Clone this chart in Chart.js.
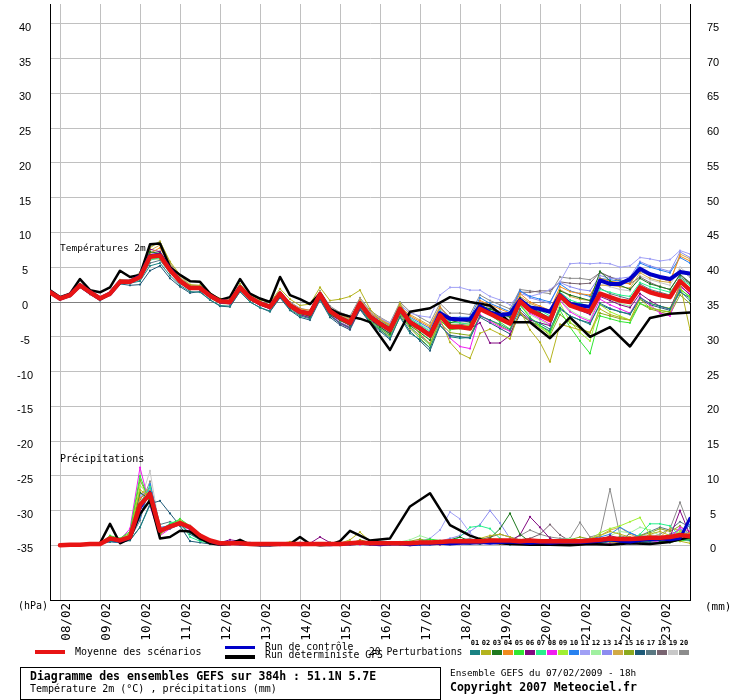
<!DOCTYPE html>
<html><head><meta charset="utf-8">
<script src="https://cdn.jsdelivr.net/npm/chart.js@4.4.1/dist/chart.umd.min.js"></script>
<style>
html,body{margin:0;padding:0;background:#fff;}
#wrap{position:relative;width:740px;height:700px;overflow:hidden;background:#fff;}
#c{position:absolute;left:0;top:0;}
.t{position:absolute;font-family:"DejaVu Sans Mono",monospace;white-space:pre;color:#000;line-height:1;}
.sq{position:absolute;width:10px;height:5.5px;top:649.5px;}
.num{position:absolute;width:11px;text-align:center;top:639.5px;font-family:"DejaVu Sans Mono",monospace;font-weight:bold;font-size:7px;line-height:1;}
</style></head><body>
<div id="wrap">
<canvas id="c" width="740" height="700"></canvas>
<div class="t" style="left:60px;top:243px;font-size:9.5px;">Températures 2m</div>
<div class="t" style="left:60px;top:454px;font-size:10px;">Précipitations</div>
<div class="t" style="left:18px;top:601px;font-size:10px;">(hPa)</div>
<div class="t" style="left:705px;top:600.5px;font-size:11px;">(mm)</div>
<div style="position:absolute;left:35px;top:650px;width:30px;height:3.5px;background:#e81414;"></div>
<div class="t" style="left:75px;top:646.7px;font-size:10px;">Moyenne des scénarios</div>
<div style="position:absolute;left:225px;top:645.5px;width:30px;height:3.5px;background:#0000c8;"></div>
<div style="position:absolute;left:225px;top:655px;width:30px;height:3.5px;background:#000;"></div>
<div class="t" style="left:265px;top:641.7px;font-size:9.8px;">Run de contrôle</div>
<div class="t" style="left:265px;top:650.3px;font-size:9.8px;">Run déterministe GFS</div>
<div class="t" style="left:369px;top:647px;font-size:9.7px;">20 Perturbations</div>
<div id="leg"></div>
<div style="position:absolute;left:20px;top:667px;width:419px;height:31px;border:1px solid #000;"></div>
<div class="t" style="left:30px;top:670.5px;font-size:11.5px;font-weight:bold;">Diagramme des ensembles GEFS sur 384h : 51.1N 5.7E</div>
<div class="t" style="left:30px;top:683.5px;font-size:10px;">Température 2m (°C) , précipitations (mm)</div>
<div class="t" style="left:450px;top:667.5px;font-size:9.4px;">Ensemble GEFS du 07/02/2009 - 18h</div>
<div class="t" style="left:450px;top:681.8px;font-size:11.5px;font-weight:bold;">Copyright 2007 Meteociel.fr</div>
</div>
<script>
// ---------- categories / ticks ----------
const hours = [0,6,12,18,24,30,36,42,48,54,60,66,72,78,84,90,96,102,108,114,120,126,132,138,144,150,156,162,168,174,180,186,192,198,204,210,216,222,228,234,240,246,252,258,264,270,276,282,288,294,300,306,312,318,324,330,336,342,348,354,360,366,372,378,384];
const detHours = [0,6,12,18,24,30,36,42,48,54,60,66,72,78,84,90,96,102,108,114,120,126,132,138,144,150,156,162,168,174,180,186,192,204,216,228,240,252,264,276,288,300,312,324,336,348,360,372,384];
const dayTickHours = [6,30,54,78,102,126,150,174,198,222,246,270,294,318,342,366];
const dayLabels = ['08/02','09/02','10/02','11/02','12/02','13/02','14/02','15/02','16/02','17/02','18/02','19/02','20/02','21/02','22/02','23/02'];
const tempTicks = [-35,-30,-25,-20,-15,-10,-5,0,5,10,15,20,25,30,35,40];
const precipTicks = [0,5,10,15,20,25,30,35,40,45,50,55,60,65,70,75];
const pertNames = ['01','02','03','04','05','06','07','08','09','10','11','12','13','14','15','16','17','18','19','20'];
const pertColors = ['#1a8282','#b4b41e','#1e781e','#f08c1e','#32e632','#820a82','#28f08c','#f01ef0','#a0f032','#2882f0','#a0a0f5','#a0f0a0','#8c8cf0','#d2aa46','#8caa1e','#1e5a78','#5a7882','#786470','#c8c8c8','#8c8c8c'];

// ---------- temperature 2m (°C), every 6 h ----------
const meanTemp = [1.4,0.5,1.0,2.4,1.4,0.5,1.2,2.9,2.9, 3.6,6.5,6.7,4.6,3.0, 2.0,2.0,0.9,0.1,0.0,2.1,0.6,-0.2, -0.7,1.2,-0.5,-1.4,-1.7,1.1,-1.3,-2.3,-3.0,-0.2,-2.1,-3.1, -4.0,-1.0,-2.9,-3.8,-4.8,-1.9,-3.6,-3.6,-3.8,-1.0,-1.7,-2.4,-3.1, 0.1,-1.2,-1.9,-2.6,0.9,-0.5,-1.0,-1.4,1.2,0.7,0.2,0.0,2.1,1.4,1.0,0.7,3.0,1.7];
const ctrlTemp = [1.4,0.5,1.0,2.4,1.4,0.5,1.2,2.9,2.9, 3.7,6.6,6.8,4.7,3.0, 2.0,2.0,0.9,0.1,0.0,2.1,0.6,-0.2, -0.7,1.2,-0.5,-1.4,-1.7,1.1,-1.3,-2.3,-3.0,-0.2,-2.1,-3.1, -4.0,-1.0,-2.9,-3.8,-4.8,-1.6,-2.4,-2.5,-2.5,-0.6,-1.5,-1.9,-1.7, 0.3,-0.8,-1.0,-1.4,1.0,-0.3,-0.5,-0.7,3.1,2.6,2.6,3.3,4.8,4.0,3.6,3.3,4.3,4.1];
const detTemp = [1.7,0.7,1.2,3.3,1.7,1.4,2.1,4.5,3.6,3.9,8.3,8.4,5.0,3.9,3.0,2.9,1.2,0.3,0.7,3.3,1.2,0.5,0.0,3.6,1.0,0.4,-0.3,1.2,-1.0,-1.7,-2.1,-2.4,-2.9, -6.9,-1.4,-0.9,0.7,0.0,-0.5,-2.9,-2.9,-5.2,-2.2,-5.0,-3.6,-6.4,-2.3,-1.7,-1.5];

const t01 = [1.2,0.3,0.8,2.1,1.1,0.2,1.0,2.6,2.7, 3.0,5.2,5.6,3.8,2.4, 1.5,1.4,0.3,-0.5,-0.6,1.5,0.0,-0.8, -1.3,0.7,-1.1,-2.0,-2.4,0.4,-2.0,-3.0,-3.7,-0.9,-2.9,-4.0, -5.2,-2.2,-4.5,-5.4,-6.6,-3.3,-5.0,-5.2,-5.1,-2.0,-2.6,-3.2,-4.0, -1.0,-2.4,-3.1,-3.9,-0.8,-2.0,-2.6,-3.2,-0.2,-0.9,-1.4,-1.7,0.6,-0.2,-0.6,-1.0,1.6,0.2];
const t02 = [1.6,0.7,1.2,2.6,1.6,0.7,1.4,3.2,3.1, 4.2,7.8,8.7,5.8,3.9, 2.5,2.4,1.3,0.5,0.4,2.6,1.0,0.3, -0.1,1.9,0.4,-0.5,-0.3,2.1,0.2,0.4,0.8,1.7,-1.0,-2.6, -3.5,-0.2,-3.0,-4.6,-6.0,-2.4,-5.8,-7.4,-8.1,-4.5,-3.9,-4.6,-5.3, -1.2,-4.0,-5.8,-8.6,-3.2,-3.6,-4.0,-4.4,-1.0,-1.8,-2.2,-2.6,0.4,-0.8,-1.2,-1.5,2.6,-4.0];
const t03 = [1.4,0.5,1.1,2.5,1.3,0.6,1.3,3.1,3.0, 3.9,7.2,7.0,4.9,3.2, 2.2,2.1,1.1,0.3,0.1,2.3,0.8,0.0, -0.9,1.0,-0.8,-1.6,-2.1,0.9,-1.8,-2.6,-3.4,-0.4,-2.4,-3.6, -4.6,-1.2,-3.4,-4.4,-5.5,-2.0,-3.0,-2.6,-2.9,-0.5,-1.0,-1.6,-2.2, 0.6,-0.8,-1.5,-2.4,1.6,1.0,0.6,0.2,4.4,3.0,2.4,1.8,3.4,2.6,2.2,1.8,3.9,2.7];
const t04 = [1.5,0.6,1.0,2.5,1.5,0.6,1.2,3.0,3.0, 3.8,7.0,7.8,5.2,3.4, 2.3,2.2,1.0,0.2,0.1,2.2,0.7,0.0, -0.5,1.4,-0.2,-1.0,-1.2,1.4,-0.9,-1.8,-2.4,0.2,-1.6,-2.5, -3.3,-0.6,-2.0,-2.8,-3.6,-0.8,-2.2,-2.4,-2.6,0.2,-0.4,-1.0,-1.6, 1.2,0.0,-0.6,-1.2,2.2,1.5,1.2,1.0,3.4,3.0,2.8,2.6,4.8,4.0,3.4,3.0,6.6,5.9];
const t05 = [1.3,0.4,0.9,2.3,1.4,0.4,1.1,2.8,2.9, 3.4,6.8,6.4,4.4,2.9, 1.9,1.9,0.8,0.0,-0.1,1.9,0.4,-0.3, -0.9,1.0,-0.7,-1.7,-2.0,0.7,-1.6,-2.7,-3.3,-0.6,-2.7,-3.8, -4.8,-1.6,-3.6,-4.9,-6.2,-2.6,-4.0,-3.8,-3.6,-0.6,-1.8,-2.9,-3.9, -0.4,-2.2,-3.4,-4.4,-1.2,-3.6,-5.6,-7.4,-2.0,-2.4,-2.8,-3.0,-0.2,-0.8,-1.2,-1.4,1.8,0.8];
const t06 = [1.4,0.6,1.0,2.4,1.3,0.5,1.2,2.9,2.8, 4.1,7.6,7.2,4.8,3.2, 2.0,1.9,0.7,-0.1,-0.2,1.9,0.4,-0.4, -0.9,0.9,-0.8,-1.8,-2.3,0.6,-1.9,-3.1,-3.8,-1.0,-2.6,-3.6, -4.5,-1.4,-3.2,-4.0,-5.0,-2.0,-3.3,-3.5,-3.8,-3.0,-5.9,-5.9,-4.8, -1.4,-2.6,-3.0,-3.4,0.6,-0.6,-1.2,-1.8,0.8,0.2,-0.4,-0.8,1.2,0.2,-0.6,-1.0,2.4,1.0];
const t07 = [1.3,0.5,1.1,2.3,1.4,0.5,1.3,2.8,2.9, 3.3,6.0,6.4,4.5,3.1, 2.1,1.9,0.9,0.0,-0.2,2.0,0.5,-0.3, -0.8,1.2,-0.4,-1.3,-1.7,1.1,-1.2,-2.2,-2.8,0.0,-1.8,-2.8, -3.6,-0.7,-2.4,-3.3,-4.2,-1.3,-2.9,-3.0,-3.2,-0.4,-1.2,-2.0,-2.8, 0.4,-0.6,-1.2,-2.0,1.4,0.3,-0.2,-0.6,1.8,1.4,1.0,0.8,2.8,2.2,1.8,1.4,3.4,2.4];
const t08 = [1.5,0.5,0.9,2.4,1.4,0.4,1.1,2.9,2.9, 3.7,6.8,7.0,4.7,3.0, 1.9,1.8,0.7,-0.1,-0.3,1.9,0.4,-0.4, -1.0,0.9,-0.8,-1.8,-2.2,0.6,-1.8,-2.9,-3.6,-0.7,-2.6,-3.8, -4.8,-1.6,-3.6,-4.8,-6.0,-2.8,-5.2,-6.4,-6.7,-1.8,-2.8,-3.6,-4.2, -0.2,-1.6,-2.4,-3.2,0.2,-1.4,-2.2,-2.8,0.4,-0.4,-1.0,-1.6,0.8,-0.4,-1.6,-2.0,2.2,1.2];
const t09 = [1.4,0.6,1.0,2.5,1.4,0.6,1.2,3.0,2.9, 3.6,6.4,6.9,4.8,3.2, 2.1,2.0,0.9,0.1,0.0,2.1,0.6,-0.2, -0.6,1.3,-0.3,-1.2,-1.5,1.3,-1.0,-2.0,-2.6,0.1,-2.0,-3.2, -4.4,-1.0,-3.0,-4.0,-5.0,-1.6,-3.2,-3.4,-3.4,-0.6,-1.4,-2.2,-3.0, -0.4,-2.2,-3.6,-4.6,-0.2,-2.8,-4.4,-5.6,-0.4,-1.4,-2.0,-2.6,0.6,-0.2,-0.6,-0.9,2.0,0.6];
const t10 = [1.4,0.5,1.0,2.4,1.5,0.5,1.2,2.8,2.9, 3.5,6.6,6.5,4.5,3.0, 2.0,2.0,0.9,0.1,0.0,2.1,0.6,-0.1, -0.6,1.3,-0.4,-1.3,-1.6,1.2,-1.1,-2.0,-2.6,0.2,-1.6,-2.6, -3.4,-0.4,-2.2,-3.0,-3.8,-0.8,-2.2,-2.2,-2.2,0.6,-0.2,-0.8,-1.4, 1.6,0.8,0.4,0.0,2.6,1.6,1.2,0.8,3.4,3.2,3.0,3.0,5.6,5.0,4.6,4.2,6.4,5.6];
const t11 = [1.5,0.6,1.1,2.3,1.4,0.6,1.3,2.9,3.0, 3.8,6.8,6.9,4.8,3.1, 2.1,2.0,0.9,0.2,0.0,2.0,0.6,-0.2, -0.6,1.2,-0.4,-1.2,-1.6,1.3,-1.0,-1.9,-2.4,0.2,-1.5,-2.4, -3.0,-0.4,-1.6,-2.0,-2.2,1.0,2.1,2.1,1.7,1.7,0.8,0.3,-0.4, 1.2,0.8,1.2,1.8,2.9,5.5,5.6,5.5,5.6,5.5,5.0,5.2,6.4,6.2,5.9,6.1,7.4,6.9];
const t12 = [1.3,0.4,1.0,2.3,1.3,0.4,1.1,2.8,2.8, 3.4,6.2,6.6,4.6,3.1, 2.2,2.0,0.8,0.0,-0.1,2.0,0.5,-0.3, -0.8,1.1,-0.6,-1.5,-1.9,0.9,-1.6,-2.6,-3.2,-0.4,-2.4,-3.4, -4.2,-1.2,-3.2,-4.3,-5.4,-2.3,-3.8,-3.9,-4.0,-1.2,-1.8,-2.6,-3.4, -0.6,-1.8,-2.6,-3.4,0.4,-1.2,-2.0,-2.6,1.0,0.4,-0.2,-0.6,2.0,1.4,1.0,0.6,2.8,1.8];
const t13 = [1.4,0.5,1.0,2.5,1.4,0.5,1.2,2.9,2.9, 3.7,6.6,7.1,4.8,3.1, 2.0,2.0,0.8,0.1,-0.1,2.1,0.6,-0.2, -0.7,1.2,-0.5,-1.4,-1.8,1.0,-1.4,-2.4,-3.0,-0.2,-2.0,-3.0, -3.8,-0.8,-2.6,-3.4,-4.4,-1.2,-2.6,-2.6,-2.8,0.0,-0.8,-1.4,-2.0, 1.6,0.6,0.2,-0.2,2.8,2.2,1.8,1.6,3.8,3.4,3.4,3.6,5.8,5.2,4.8,4.4,7.2,6.4];
const t14 = [1.5,0.6,1.1,2.6,1.5,0.6,1.3,3.1,3.0, 4.0,7.4,8.2,5.4,3.5, 2.3,2.2,1.0,0.2,0.1,2.3,0.8,0.0, -0.5,1.4,-0.2,-1.1,-1.4,1.4,-1.0,-1.9,-2.4,0.4,-1.4,-2.4, -3.2,-0.2,-1.8,-2.6,-3.4,-0.6,-2.6,-3.0,-3.2,-0.2,-0.8,-1.4,-2.2, 0.8,-0.2,-0.8,-1.4,1.8,0.8,0.4,0.2,2.4,2.4,2.2,2.0,4.2,3.4,3.0,2.8,6.9,6.2];
const t15 = [1.3,0.5,0.9,2.4,1.4,0.5,1.1,2.9,2.8, 3.5,6.2,6.2,4.3,2.8, 1.8,1.8,0.6,-0.2,-0.3,1.8,0.3,-0.4, -1.0,0.8,-0.9,-1.9,-2.2,0.5,-1.9,-3.0,-3.6,-0.8,-2.8,-4.0, -5.0,-1.8,-3.8,-5.2,-6.6,-3.0,-4.4,-4.6,-4.8,-2.0,-2.6,-3.4,-4.2, -1.6,-2.8,-3.6,-4.8,-1.8,-3.0,-3.8,-4.4,-1.6,-2.0,-2.4,-2.6,-0.2,-1.0,-1.4,-1.8,1.0,-0.2];
const t16 = [1.2,0.3,0.9,2.2,1.2,0.3,1.0,2.6,2.4, 2.5,4.5,5.2,3.4,2.2, 1.3,1.5,0.3,-0.6,-0.7,1.5,0.0,-0.8, -1.4,0.6,-1.2,-2.2,-2.6,0.3,-2.2,-3.3,-4.0,-1.1,-3.0,-4.2, -5.4,-2.0,-4.2,-5.6,-7.0,-3.4,-4.8,-5.0,-5.2,-2.2,-3.0,-3.8,-4.6, -1.8,-2.8,-3.4,-4.2,-1.0,-2.0,-2.6,-3.0,-0.4,-1.0,-1.4,-1.8,0.4,-0.4,-0.8,-1.2,1.4,0.6];
const t17 = [1.4,0.4,1.0,2.4,1.4,0.4,1.2,2.8,2.8, 3.2,5.6,6.0,4.2,2.8, 1.8,1.8,0.7,-0.1,-0.2,1.9,0.4,-0.4, -0.9,1.0,-0.6,-1.5,-1.9,0.9,-1.5,-2.5,-3.2,-0.4,-2.2,-3.2, -4.0,-1.0,-2.8,-3.8,-4.8,-1.8,-3.4,-3.4,-3.6,-0.8,-1.4,-2.2,-2.8, 0.2,-1.0,-1.6,-2.2,1.0,0.0,-0.4,-0.8,2.0,1.2,0.8,0.4,2.6,1.8,1.4,1.0,3.6,2.6];
const t18 = [1.5,0.6,1.0,2.4,1.4,0.6,1.2,2.9,3.0, 3.6,6.9,6.8,4.6,3.0, 2.0,1.9,0.9,0.1,-0.1,2.1,0.5,-0.2, -0.7,1.1,-0.5,-1.4,-1.8,1.0,-1.3,-2.3,-2.9,-0.2,-2.2,-3.0, -3.8,-0.9,-2.6,-3.6,-4.6,-1.6,-3.2,-3.2,-3.4,-0.6,-1.0,-1.4,-1.8, 1.4,1.4,1.6,1.6,2.9,2.7,2.6,2.7,4.3,3.6,3.0,2.6,3.6,2.8,2.2,1.8,4.0,2.8];
const t19 = [1.4,0.5,1.0,2.4,1.4,0.5,1.2,2.9,2.9, 3.9,7.2,7.4,5.0,3.2, 2.1,2.1,1.0,0.2,0.1,2.2,0.7,-0.1, -0.6,1.3,-0.3,-1.2,-1.5,1.3,-1.0,-2.0,-2.6,0.1,-1.8,-2.8, -3.6,-0.6,-2.4,-3.2,-4.0,-1.0,-2.6,-2.8,-3.0,-0.2,-0.8,-1.6,-2.4, 0.8,-0.2,-0.8,-1.4,1.8,1.0,0.6,0.2,2.6,2.2,1.8,1.6,3.8,3.2,2.8,2.4,5.0,3.8];
const t20 = [1.5,0.6,1.1,2.5,1.5,0.6,1.3,3.1,3.1, 4.3,8.0,8.7,5.6,3.6, 2.4,2.3,1.1,0.3,0.2,2.4,0.8,0.1, -0.4,1.5,0.0,-0.9,-1.2,1.6,-0.6,-1.5,-2.0,0.6,-1.2,-2.2, -3.0,0.0,-1.4,-2.2,-3.0,-0.2,-1.6,-1.6,-1.8,1.0,0.2,-0.4,-1.0, 1.8,1.6,1.4,1.2,3.6,3.4,3.4,3.2,4.2,3.6,3.2,2.8,4.4,3.8,3.4,3.0,4.6,3.6];

// ---------- precipitation (mm / 6 h), from hour 6 ----------
const meanPrecip = [0,0.1,0.1,0.2,0.2,1.0,0.7,1.2, 5.8,7.4,2.1,2.7,3.2,2.6,1.4,0.7, 0.3,0.3,0.3,0.2,0.2,0.2,0.2,0.2,0.2,0.2,0.2,0.2,0.2,0.3,0.4,0.3, 0.3,0.3,0.3,0.3,0.4,0.4,0.5,0.6,0.6,0.6,0.6,0.7,0.7,0.7,0.6,0.7, 0.6,0.6,0.6,0.6,0.6,0.7,0.8,1.0,0.9,0.9,1.0,1.1,1.1,1.2,1.5,1.3];
const ctrlPrecip = [0,0,0.1,0.2,0.2,0.9,0.6,1.1, 5.4,7.6,2.0,2.8,3.2,2.6,1.4,0.6, 0.2,0.3,0.2,0.2,0.1,0.1,0.2,0.2,0.1,0.2,0.2,0.1,0.2,0.2,0.3,0.2, 0.1,0.2,0.2,0.1,0.2,0.2,0.3,0.2,0.3,0.3,0.4,0.3,0.4,0.5,0.4,0.3, 0.4,0.3,0.4,0.5,0.4,0.5,0.6,0.8,0.6,0.5,0.7,0.8,0.9,0.8,1.0,3.9];
const detPrecip = [0.0,0.0,0.1,0.1,0.3,3.1,0.3,1.0, 4.5,6.5,1.0,1.2,2.1,2.0,1.0,0.3, 0.1,0.2,0.8,0.1,0.0,0.0,0.1,0.2, 1.2,0.2,0.0,0.1,0.6,2.1,1.4,0.7, 1.0,5.6,7.5,2.9,1.4,0.4,0.2,0.1,0.1,0.0,0.2,0.1,0.3,0.2,0.5,1.2];

const p01 = [0,0.1,0.1,0.2,0.2,0.6,0.4,0.8, 2.6,5.8,2.0,2.4,3.0,1.6,0.8,0.4, 0.2,0.3,0.4,0.2,0.1,0,0.1,0.2,0.1,0.2,0.3,0.1,0,0.2,0.4,0.2, 0.1,0.1,0.2,0,0.1,0.3,0.2,0.4,0.6,0.3,0.2,0.4,0.3,0.1,0.2,0.3, 0.4,0.2,0.1,0.3,0.5,0.4,0.2,0.6,0.8,0.4,0.3,0.5,0.4,0.6,0.9,0.7];
const p02 = [0,0,0.1,0.2,0.3,1.2,0.8,1.6, 8.0,7.0,1.5,2.8,3.6,2.8,1.6,0.6, 0.3,0.4,0.2,0.1,0.1,0.2,0.3,0.5,0.2,0.1,0.2,0.1,0.3,0.8,1.9,0.6, 0.3,0.2,0.1,0.4,0.6,0.3,0.2,0.1,0.3,0.5,1.0,1.4,1.6,1.2,0.6,0.3, 0.2,0.4,0.3,0.2,0.5,1.0,1.4,2.0,1.6,1.2,0.8,1.6,2.0,1.4,0.6,0.3];
const p03 = [0,0.1,0.1,0.1,0.2,0.8,0.6,1.4, 7.6,6.6,1.8,2.6,3.4,2.4,1.2,0.5, 0.2,0.2,0.3,0.1,0,0.1,0.2,0.1,0.3,0.2,0.1,0.2,0.1,0.3,0.4,0.2, 0.1,0.2,0.1,0.2,0.3,0.4,0.5,0.8,1.2,0.6,0.4,1.0,2.4,4.6,1.6,0.5, 0.5,0.3,0.2,0.4,0.3,0.2,0.4,0.6,0.5,0.3,0.8,1.2,0.6,0.4,0.8,1.0];
const p04 = [0,0,0.1,0.1,0.2,1.0,0.6,1.2, 6.8,7.8,2.2,2.8,3.2,2.6,1.4,0.6, 0.3,0.3,0.2,0.2,0.1,0.2,0.1,0.4,0.3,0.2,0.1,0.2,0.3,0.5,0.6,0.3, 0.2,0.3,0.2,0.1,0.2,0.3,0.4,0.2,0.3,0.5,0.4,0.3,0.2,0.4,0.6,0.3, 0.2,0.3,0.5,0.4,0.3,0.6,0.8,0.5,0.4,0.7,1.0,1.4,0.8,0.6,1.2,1.8];
const p05 = [0,0.1,0.1,0.2,0.3,1.4,1.0,2.0, 10.0,6.0,1.6,3.0,3.8,2.8,1.4,0.5, 0.2,0.3,0.2,0.1,0.2,0.1,0.3,0.2,0.1,0.2,0.3,0.4,0.2,0.1,0.3,0.2, 0.2,0.1,0.3,0.4,0.6,0.9,0.7,0.4,0.3,0.6,1.0,0.8,0.5,0.4,0.3,0.6, 0.8,0.5,0.3,0.6,0.4,0.3,0.5,0.9,1.2,0.8,0.5,0.6,1.0,0.8,0.6,0.9];
const p06 = [0,0,0.1,0.1,0.2,0.8,0.5,1.0, 5.0,7.8,2.4,2.6,3.0,2.4,1.6,0.8, 0.4,0.8,0.6,0.3,0.2,0.1,0.2,0.1,0.2,0.3,1.2,0.4,0.2,0.1,0.2,0.1, 0.1,0.2,0.1,0.2,0.3,0.2,0.1,0.3,0.4,0.3,0.2,0.4,0.3,0.6,1.5,4.1, 2.6,1.0,0.4,0.3,0.2,0.4,0.6,1.4,1.0,0.5,0.3,0.6,0.8,1.2,5.0,1.5];
const p07 = [0,0.1,0.1,0.2,0.2,0.7,0.5,1.1, 6.0,8.4,2.0,3.2,3.6,1.2,0.6,0.3, 0.2,0.2,0.3,0.2,0.1,0.2,0.1,0.2,0.3,0.2,0.1,0.2,0.2,0.3,0.4,0.2, 0.1,0.2,0.2,0.3,0.2,0.1,0.3,0.5,1.2,2.6,2.8,2.4,1.0,0.5,0.3,0.4, 0.3,0.2,0.4,0.5,0.3,0.4,0.6,0.5,0.4,0.8,1.6,3.1,3.1,2.8,1.4,0.8];
const p08 = [0,0,0.1,0.1,0.3,1.2,0.8,2.4, 11.2,5.6,1.4,2.4,3.0,2.2,1.0,0.4, 0.2,0.1,0.2,0.3,0.2,0.1,0,0.1,0.2,0.1,0.2,0.1,0.3,0.2,0.1,0.2, 0.2,0.1,0.2,0.3,0.2,0.1,0.2,0.3,0.2,0.4,0.3,0.5,0.6,0.4,0.3,0.2, 0.3,0.5,0.4,0.2,0.3,0.5,0.4,0.3,0.6,0.8,0.5,0.4,0.7,1.0,2.6,2.0];
const p09 = [0,0.1,0.2,0.2,0.3,1.0,0.7,1.5, 8.6,7.2,1.8,3.0,3.4,2.6,1.2,0.5, 0.3,0.2,0.1,0.2,0.3,0.2,0.1,0.2,0.1,0.2,0.1,0.3,0.4,0.2,0.3,0.1, 0.2,0.3,0.2,0.1,0.2,0.3,0.2,0.4,0.3,0.2,0.6,1.0,0.8,0.4,0.3,0.2, 0.4,0.3,0.6,0.5,0.4,0.8,1.8,2.4,2.8,3.4,4.0,1.5,0.8,1.2,2.0,1.4];
const p10 = [0,0,0.1,0.2,0.2,0.6,0.4,1.0, 4.0,8.8,2.6,2.8,3.2,2.8,1.6,0.7, 0.3,0.4,0.3,0.2,0.1,0.2,0.3,0.2,0.1,0.2,0.3,0.2,0.1,0.2,0.3,0.2, 0.1,0.2,0.3,0.2,0.1,0.2,0.3,0.2,0.4,0.3,0.5,0.4,0.6,0.5,0.3,0.4, 0.5,0.3,0.4,0.6,0.8,1.0,1.2,1.6,2.6,1.8,1.2,0.8,0.6,0.9,1.4,3.0];
const p11 = [0,0.1,0.1,0.1,0.2,0.9,0.6,1.3, 7.2,8.0,2.2,2.6,3.4,2.6,1.4,0.6, 0.2,0.3,0.2,0.4,0.2,0.1,0.2,0.3,0.2,0.1,0.2,0.3,0.2,0.4,0.3,0.2, 0.3,0.2,0.3,0.4,0.6,1.0,2.2,4.8,3.8,1.8,0.5,0.3,0.4,0.3,0.5,0.4, 0.3,0.5,0.6,0.4,0.3,0.5,0.7,0.6,0.5,0.8,1.0,0.7,0.6,1.0,1.8,1.2];
const p12 = [0,0.1,0.1,0.2,0.2,0.8,0.5,1.2, 6.4,7.4,2.4,3.0,3.6,2.6,1.2,0.5, 0.3,0.2,0.3,0.1,0.2,0.1,0.2,0.1,0.2,0.3,0.2,0.1,0.2,0.1,0.2,0.3, 0.2,0.3,0.5,0.8,1.4,0.9,0.5,0.3,0.2,0.3,0.4,0.6,0.8,0.5,0.4,0.3, 0.4,0.6,0.8,1.0,0.6,0.4,0.8,1.4,2.0,1.8,2.6,2.2,1.4,1.0,0.8,0.6];
const p13 = [0,0,0.1,0.2,0.3,1.1,0.7,1.4, 7.0,7.6,2.0,2.8,3.2,2.4,1.2,0.5, 0.2,0.3,0.2,0.1,0.2,0.3,0.2,0.1,0.2,0.1,0.2,0.3,0.2,0.1,0.2,0.2, 0.3,0.2,0.1,0.2,0.3,0.4,0.6,1.0,1.4,2.0,3.0,5.0,3.2,1.0,0.4,0.3, 0.2,0.4,0.3,0.5,0.4,0.3,0.6,0.8,0.6,0.4,0.7,1.0,0.8,1.4,2.4,1.6];
const p14 = [0,0.1,0.1,0.1,0.2,0.9,0.6,1.2, 7.4,8.2,2.0,2.8,3.0,2.4,1.4,0.7, 0.3,0.2,0.3,0.2,0.1,0.2,0.3,0.2,0.3,0.2,0.1,0.2,0.3,0.2,0.5,0.3, 0.2,0.3,0.2,0.3,0.2,0.4,0.3,0.5,0.4,0.3,0.5,0.7,0.5,0.4,0.3,0.6, 0.5,0.4,0.3,0.5,0.7,0.6,1.4,2.2,2.6,1.6,1.0,0.8,1.2,2.4,2.2,1.2];
const p15 = [0,0.1,0.2,0.2,0.3,1.3,0.9,1.8, 9.4,6.4,1.6,2.6,3.2,2.6,1.2,0.4, 0.2,0.3,0.4,0.2,0.1,0.2,0.1,0.3,0.2,0.1,0.2,0.4,0.3,0.2,0.8,0.4, 0.3,0.2,0.4,0.6,0.9,0.6,0.4,0.3,0.2,0.4,0.6,0.4,0.3,0.5,0.8,0.5, 0.4,0.3,0.5,0.8,1.2,0.9,0.6,0.8,0.6,0.9,1.4,1.8,2.4,2.0,2.8,1.6];
const p16 = [0,0,0.1,0.1,0.2,0.5,0.4,0.7, 2.6,6.0,6.4,4.6,2.8,0.6,0.4,0.2, 0.1,0.2,0.1,0.1,0.2,0.1,0.2,0.1,0.2,0.3,0.1,0.2,0.1,0.2,0.3,0.1, 0.1,0.2,0.1,0.2,0.3,0.2,0.3,0.4,0.3,0.2,0.3,0.5,0.4,0.3,0.2,0.4, 0.3,0.2,0.4,0.5,0.3,0.6,0.8,0.5,0.4,1.8,1.2,0.8,0.6,0.5,0.8,1.0];
const p17 = [0,0.1,0.1,0.2,0.2,0.7,0.5,0.9, 3.6,8.6,3.0,3.4,3.0,1.8,0.8,0.3, 0.2,0.3,0.2,0.3,0.2,0.1,0.2,0.3,0.2,0.1,0.2,0.3,0.2,0.3,0.4,0.2, 0.2,0.1,0.2,0.3,0.4,0.3,0.2,0.4,0.5,0.3,0.4,0.6,0.5,0.4,0.6,0.8, 0.6,0.5,0.8,1.0,0.7,0.5,0.6,0.9,1.2,0.8,1.4,2.0,2.6,2.2,3.4,2.6];
const p18 = [0,0.1,0.1,0.1,0.3,1.0,0.7,1.3, 6.6,8.4,2.2,2.6,3.4,2.8,1.4,0.6, 0.3,0.4,0.3,0.2,0.1,0.2,0.1,0.2,0.4,0.2,0.1,0.3,0.2,0.1,0.3,0.2, 0.3,0.2,0.3,0.2,0.4,0.3,0.5,0.4,0.3,0.5,0.8,1.2,1.6,1.2,0.8,1.0, 1.6,3.0,1.5,0.6,0.4,0.6,0.8,0.5,0.7,1.0,1.4,1.2,0.9,1.6,2.2,1.4];
const p19 = [0,0.1,0.1,0.2,0.2,0.8,0.6,1.1, 6.2,10.7,2.2,2.8,3.6,2.6,1.4,0.6, 0.2,0.3,0.2,0.2,0.3,0.1,0.2,0.2,0.1,0.3,0.2,0.1,0.2,0.3,0.2,0.1, 0.2,0.3,0.2,0.1,0.3,0.2,0.4,0.3,0.5,0.4,0.3,0.4,0.6,0.5,0.3,0.5, 0.4,0.6,0.5,0.4,0.6,0.8,0.6,0.9,1.1,0.8,1.2,1.6,1.2,1.0,1.4,2.0];
const p20 = [0,0.1,0.1,0.2,0.3,0.9,0.6,1.2, 5.6,9.2,2.4,3.0,3.4,2.6,1.2,0.5, 0.3,0.2,0.1,0.3,0.2,0.1,0.2,0.3,0.1,0.2,0.3,0.2,0.1,0.2,0.3,0.2, 0.1,0.3,0.2,0.4,0.3,0.5,0.4,0.6,0.8,1.0,0.6,0.4,0.5,0.7,1.4,2.2, 1.6,1.2,1.0,1.0,3.3,1.2,1.6,8.1,1.4,1.0,0.8,1.2,1.6,2.4,6.2,2.4];

const tempPerts = [t01,t02,t03,t04,t05,t06,t07,t08,t09,t10,t11,t12,t13,t14,t15,t16,t17,t18,t19,t20];
const precipPerts = [p01,p02,p03,p04,p05,p06,p07,p08,p09,p10,p11,p12,p13,p14,p15,p16,p17,p18,p19,p20];

// ---------- build ----------
const precipHours = hours.slice(1);
const detPrecipHours = detHours.slice(1);
const pts = (xs, ys) => ys.map((v, i) => ({x: xs[i], y: v}));

function mainLine(xs, ys, color, width, axis, order) {
  return {data: pts(xs, ys), borderColor: color, backgroundColor: color, borderWidth: width,
    pointRadius: 0, yAxisID: axis, order: order, fill: false, borderJoinStyle: 'round', borderCapStyle: 'round'};
}
const datasets = [];
datasets.push(mainLine(hours, meanTemp, '#e81414', 4.5, 'y', 0));
datasets.push(mainLine(precipHours, meanPrecip, '#e81414', 4.5, 'y2', 0));
datasets.push(mainLine(hours, ctrlTemp, '#0000c8', 4, 'y', 1));
datasets.push(mainLine(precipHours, ctrlPrecip, '#0000c8', 3, 'y2', 1));
datasets.push(mainLine(detHours, detTemp, '#000000', 2.5, 'y', 2));
datasets.push(mainLine(detPrecipHours, detPrecip, '#000000', 2.5, 'y2', 2));
tempPerts.forEach((arr, k) => {
  datasets.push({data: pts(hours, arr), borderColor: pertColors[k], backgroundColor: pertColors[k],
    borderWidth: 1, pointRadius: 1.1, pointBorderWidth: 0, yAxisID: 'y', order: 3 + k, fill: false});
});
precipPerts.forEach((arr, k) => {
  datasets.push({data: pts(precipHours, arr), borderColor: pertColors[k], backgroundColor: pertColors[k],
    borderWidth: 1, pointRadius: 1.1, pointBorderWidth: 0, yAxisID: 'y2', order: 3 + k, fill: false});
});

// legend squares
const leg = document.getElementById('leg');
pertNames.forEach((n, k) => {
  const s = document.createElement('div'); s.className = 'sq';
  s.style.left = (470 + 11 * k) + 'px'; s.style.background = pertColors[k]; leg.appendChild(s);
  const t = document.createElement('div'); t.className = 'num';
  t.style.left = (469.5 + 11 * k) + 'px'; t.textContent = n; leg.appendChild(t);
});

const tickFont = {family: 'Liberation Sans', size: 11};
new Chart(document.getElementById('c'), {
  type: 'line',
  data: {datasets: datasets},
  options: {
    responsive: false, animation: false, devicePixelRatio: 1,
    layout: {padding: 0},
    plugins: {legend: {display: false}, tooltip: {enabled: false}},
    elements: {line: {tension: 0}},
    scales: {
      x: {
        type: 'linear', position: 'bottom', min: 0, max: 384, bounds: 'data',
        afterBuildTicks: s => { s.ticks = dayTickHours.map(v => ({value: v})); },
        afterFit: s => { s.height = 100; s.paddingLeft = 0; s.paddingRight = 0; },
        grid: {color: '#c0c0c0', lineWidth: 1, drawTicks: false},
        border: {display: true, color: '#000', width: 1},
        ticks: {autoSkip: false, minRotation: 90, maxRotation: 90, padding: 3, labelOffset: 7,
          color: '#000', font: {family: 'DejaVu Sans Mono', size: 12.5},
          callback: (v, i) => dayLabels[i]}
      },
      y: {
        type: 'linear', position: 'left', min: -300 / 7, max: 300 / 7, bounds: 'data',
        afterBuildTicks: s => { s.ticks = tempTicks.map(v => ({value: v})); },
        afterFit: s => { s.width = 50; s.paddingTop = 0; s.paddingBottom = 0; },
        grid: {color: c => (c.tick && c.tick.value === 0) ? '#808080' : '#c0c0c0', lineWidth: 1, drawTicks: false},
        border: {display: true, color: '#000', width: 1},
        ticks: {padding: 17, crossAlign: 'center', labelOffset: 4, color: '#000', font: tickFont}
      },
      y2: {
        type: 'linear', position: 'right', min: 35 - 300 / 7, max: 35 + 300 / 7, bounds: 'data',
        afterBuildTicks: s => { s.ticks = precipTicks.map(v => ({value: v})); },
        afterFit: s => { s.width = 50; s.paddingTop = 0; s.paddingBottom = 0; },
        grid: {drawOnChartArea: false, drawTicks: false},
        border: {display: true, color: '#000', width: 1},
        ticks: {padding: 17, crossAlign: 'center', labelOffset: 4, color: '#000', font: tickFont}
      }
    }
  }
});
</script>
</body></html>
